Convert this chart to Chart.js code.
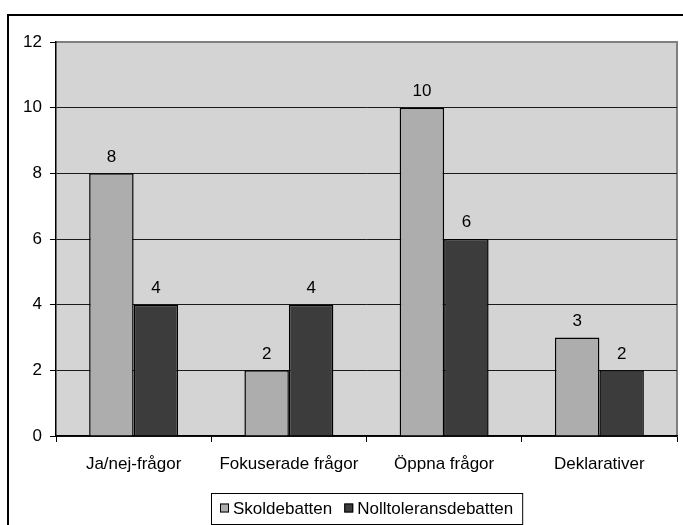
<!DOCTYPE html>
<html>
<head>
<meta charset="utf-8">
<script src="https://cdn.jsdelivr.net/npm/chart.js@4/dist/chart.umd.min.js"></script>
<style>
  html, body { margin: 0; padding: 0; background: #fff; }
  #wrap { width: 683px; height: 525px; }
</style>
</head>
<body>
<div id="wrap"><canvas id="c" width="683" height="525"></canvas></div>
<script>
// Question types
const categories = ['Ja/nej-frågor', 'Fokuserade frågor', 'Öppna frågor', 'Deklarativer'];
// Counts per debate
const skoldebatten = [8, 2, 10, 3];
const nolltoleransdebatten = [4, 4, 6, 2];
// Y axis range
const yTicks = [0, 2, 4, 6, 8, 10, 12];

const FONT = { family: '"Liberation Sans", Arial, sans-serif', size: 17 };

// Plot background, outer frame and the boxed legend
const framePlugin = {
  id: 'frame',
  beforeDraw(chart) {
    const { ctx, chartArea: a } = chart;
    ctx.save();
    ctx.fillStyle = '#ffffff';
    ctx.fillRect(0, 0, chart.width, chart.height);
    ctx.strokeStyle = '#000000';
    ctx.lineWidth = 2;
    ctx.strokeRect(8, 15, chart.width + 20, chart.height + 20);
    ctx.fillStyle = '#d4d4d4';
    ctx.fillRect(a.left, a.top, a.right - a.left, a.bottom - a.top);
    ctx.strokeStyle = '#808080';
    ctx.lineWidth = 2;
    ctx.beginPath();
    ctx.moveTo(a.left, a.top);
    ctx.lineTo(a.right, a.top);
    ctx.lineTo(a.right, a.bottom);
    ctx.stroke();
    ctx.restore();
  },
  afterDraw(chart) {
    const { ctx } = chart;
    ctx.save();
    ctx.font = FONT.size + 'px ' + FONT.family;
    ctx.textBaseline = 'middle';
    const ds = chart.data.datasets;
    const box = 9, gapBox = 4, gapItem = 12, padX = 9;
    let total = padX * 2;
    ds.forEach((d, i) => {
      total += box + gapBox + ctx.measureText(d.label).width + (i < ds.length - 1 ? gapItem : 0);
    });
    const cx = (chart.chartArea.left + chart.chartArea.right) / 2;
    const left = Math.round(cx - total / 2);
    const top = 493, h = 31;
    ctx.fillStyle = '#ffffff';
    ctx.fillRect(left, top, total, h);
    ctx.strokeStyle = '#000000';
    ctx.lineWidth = 1;
    ctx.strokeRect(left + 0.5, top + 0.5, total, h);
    let x = left + padX;
    const cy = top + h / 2;
    ds.forEach((d) => {
      ctx.fillStyle = d.backgroundColor;
      ctx.fillRect(x, cy - 5, box, box);
      ctx.strokeStyle = '#000';
      ctx.strokeRect(x + 0.5, cy - 5 + 0.5, box - 1, box - 1);
      x += box + gapBox;
      ctx.fillStyle = '#000';
      ctx.textAlign = 'left';
      ctx.fillText(d.label, x, cy + 1);
      x += ctx.measureText(d.label).width + gapItem;
    });
    ctx.restore();
  }
};

// Value above each bar
const valueLabels = {
  id: 'valueLabels',
  afterDatasetsDraw(chart) {
    const { ctx } = chart;
    ctx.save();
    ctx.font = FONT.size + 'px ' + FONT.family;
    ctx.fillStyle = '#000';
    ctx.textAlign = 'center';
    ctx.textBaseline = 'bottom';
    chart.data.datasets.forEach((d, di) => {
      chart.getDatasetMeta(di).data.forEach((bar, i) => {
        ctx.fillText(String(d.data[i]), bar.x, bar.y - 8);
      });
    });
    ctx.restore();
  }
};

new Chart(document.getElementById('c'), {
  type: 'bar',
  data: {
    labels: categories,
    datasets: [
      { label: 'Skoldebatten', data: skoldebatten, backgroundColor: '#adadad', borderColor: '#000', borderWidth: 1.5 },
      { label: 'Nolltoleransdebatten', data: nolltoleransdebatten, backgroundColor: '#3c3c3c', borderColor: '#000', borderWidth: 1.5 }
    ]
  },
  options: {
    responsive: false,
    animation: false,
    devicePixelRatio: 1,
    layout: { padding: { left: 0, top: 42, right: 6, bottom: 0 } },
    datasets: { bar: { categoryPercentage: 0.573, barPercentage: 1.0 } },
    plugins: { legend: { display: false }, tooltip: { enabled: false } },
    scales: {
      x: {
        offset: true,
        grid: { offset: true, drawOnChartArea: false, color: '#000', tickLength: 6, lineWidth: 1 },
        border: { color: '#000', width: 1.5 },
        ticks: { color: '#000', font: FONT, padding: 12, maxRotation: 0 },
        afterFit(s) { s.height = 89; }
      },
      y: {
        min: 0, max: 12,
        afterBuildTicks(s) { s.ticks = yTicks.map(v => ({ value: v })); },
        grid: {
          color: (c) => (c.tick && c.tick.value === 12 ? '#808080' : '#1a1a1a'),
          tickColor: '#000', tickLength: 6, lineWidth: 1
        },
        border: { color: '#000', width: 1.5 },
        ticks: { color: '#000', font: FONT, padding: 8 },
        afterFit(s) { s.width = 56; }
      }
    }
  },
  plugins: [framePlugin, valueLabels]
});
</script>
</body>
</html>
